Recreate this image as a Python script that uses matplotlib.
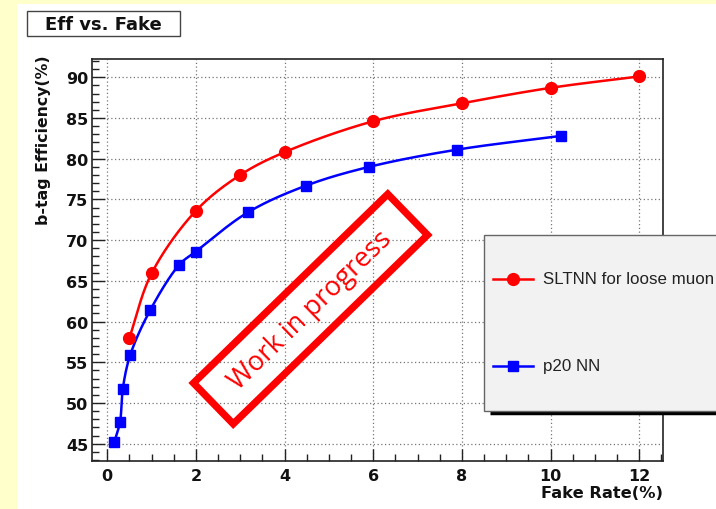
import numpy as np
import matplotlib
matplotlib.use("Agg")
import matplotlib.pyplot as plt
from matplotlib.patches import Rectangle, Polygon
from matplotlib.lines import Line2D
from matplotlib.ticker import MultipleLocator

W, H = 716, 510

# b-tag efficiency vs. fake rate (both in %)
slt_fake = [0.5, 1.0, 2.0, 3.0, 4.0, 6.0, 8.0, 10.0, 12.0]
slt_eff = [58.0, 65.9, 73.6, 78.0, 80.8, 84.6, 86.8, 88.7, 90.1]

p20_fake = [0.16, 0.29, 0.35, 0.52, 0.97, 1.63, 2.0, 3.17, 4.49, 5.91, 7.88, 10.24]
p20_eff = [45.2, 47.7, 51.7, 55.9, 61.4, 67.0, 68.6, 73.4, 76.7, 79.0, 81.1, 82.8]

series_labels = ["SLTNN for loose muon", "p20 NN"]
series_colors = ["#ff0000", "#0000ff"]
series_markers = ["o", "s"]

x_ticks = [0, 2, 4, 6, 8, 10, 12]
y_ticks = [45, 50, 55, 60, 65, 70, 75, 80, 85, 90]

BOLD = "DejaVu Sans"


def fig_px(x, y):
    """Pixel position (origin top-left) -> figure fraction."""
    return x / W, 1 - y / H


def catmull_rom(ax, xs, ys, n=40):
    """Centripetal Catmull-Rom curve through the points, computed in display space."""
    pts = ax.transData.transform(np.column_stack([xs, ys]))
    P = np.vstack([2 * pts[0] - pts[1], pts, 2 * pts[-1] - pts[-2]])
    out = []
    for i in range(1, len(P) - 2):
        p0, p1, p2, p3 = P[i - 1:i + 3]
        t0 = 0.0
        t1 = t0 + np.linalg.norm(p1 - p0) ** 0.5
        t2 = t1 + np.linalg.norm(p2 - p1) ** 0.5
        t3 = t2 + np.linalg.norm(p3 - p2) ** 0.5
        t = np.linspace(t1, t2, n)[:, None]
        A1 = (t1 - t) / (t1 - t0) * p0 + (t - t0) / (t1 - t0) * p1
        A2 = (t2 - t) / (t2 - t1) * p1 + (t - t1) / (t2 - t1) * p2
        A3 = (t3 - t) / (t3 - t2) * p2 + (t - t2) / (t3 - t2) * p3
        B1 = (t2 - t) / (t2 - t0) * A1 + (t - t0) / (t2 - t0) * A2
        B2 = (t3 - t) / (t3 - t1) * A2 + (t - t1) / (t3 - t1) * A3
        C = (t2 - t) / (t2 - t1) * B1 + (t - t1) / (t2 - t1) * B2
        out.append(C if i == len(P) - 3 else C[:-1])
    return ax.transData.inverted().transform(np.vstack(out))


fig = plt.figure(figsize=(W / 100, H / 100), dpi=100)
fig.patch.set_facecolor("white")

# pale yellow page margins
fig.add_artist(Rectangle((0, 0), 17 / W, 1, transform=fig.transFigure,
                         facecolor="#ffffcc", edgecolor="none", zorder=0))
fig.add_artist(Rectangle((0, 1 - 5 / H), 1, 5 / H, transform=fig.transFigure,
                         facecolor="#ffffcc", edgecolor="none", zorder=0))

left, right, top, bottom = 91.7, 662.7, 59.7, 462.0
ax = fig.add_axes([left / W, 1 - bottom / H, (right - left) / W, (bottom - top) / H])
ax.set_xlim(-0.35, 12.53)
ax.set_ylim(42.87, 92.28)

ax.set_xticks(x_ticks)
ax.set_yticks(y_ticks)
ax.xaxis.set_minor_locator(MultipleLocator(0.5))
ax.yaxis.set_minor_locator(MultipleLocator(1))
ax.tick_params(which="both", direction="in", top=False, right=False,
               color="#222222", width=1.0)
ax.tick_params(which="major", length=9)
ax.tick_params(which="minor", length=5)
ax.tick_params(axis="x", which="major", pad=5)
ax.tick_params(axis="y", which="major", pad=2.5)
for lab in ax.get_xticklabels() + ax.get_yticklabels():
    lab.set_fontfamily(BOLD)
    lab.set_fontweight("bold")
    lab.set_fontsize(11.5)
    lab.set_color("#111111")
for s in ax.spines.values():
    s.set_linewidth(1.2)
    s.set_color("#222222")

ax.grid(True, which="major", color="#777777", linestyle=(0, (1, 2)), linewidth=0.9)
ax.set_axisbelow(True)

# series: smooth curve plus markers
for xs, ys, c, m in [(slt_fake, slt_eff, series_colors[0], series_markers[0]),
                     (p20_fake, p20_eff, series_colors[1], series_markers[1])]:
    curve = catmull_rom(ax, xs, ys)
    ax.plot(curve[:, 0], curve[:, 1], color=c, linewidth=1.8, zorder=3)
    ax.plot(xs, ys, linestyle="none", marker=m, color=c,
            markersize=8.5 if m == "o" else 7.8, zorder=4)

# axis titles
fig.text(*fig_px(663, 494), "Fake Rate(%)", ha="right", va="center",
         fontfamily=BOLD, fontweight="bold", fontsize=11.7, color="#111111")
fig.text(*fig_px(44, 55), "b-tag Efficiency(%)", ha="center", va="top",
         rotation=90, fontfamily=BOLD, fontweight="bold", fontsize=11.3,
         color="#111111")

# title box
tx, ty = fig_px(27, 37)
fig.add_artist(Rectangle((tx, ty), 153 / W, 25 / H, transform=fig.transFigure,
                         facecolor="white", edgecolor="#444444", linewidth=1.0,
                         zorder=5))
fig.text(*fig_px(103.5, 25), "Eff vs. Fake", ha="center", va="center",
         fontfamily=BOLD, fontweight="bold", fontsize=13, color="#111111",
         zorder=6)

# legend panel (runs off the right edge)
lx0, ly0, lx1, ly1 = 484, 235.7, 730, 411.7
fig.add_artist(Line2D([(lx0 + 6) / W, 1.0], [1 - (ly1 + 2) / H] * 2,
                      transform=fig.transFigure, color="black", linewidth=2.5,
                      solid_capstyle="butt", zorder=6))
bx, by = fig_px(lx0, ly1)
fig.add_artist(Rectangle((bx, by), (lx1 - lx0) / W, (ly1 - ly0) / H,
                         transform=fig.transFigure, facecolor="#f2f2f2",
                         edgecolor="#666666", linewidth=1.0, zorder=7))
for lab, c, m, yy in zip(series_labels, series_colors, series_markers, [280, 367]):
    fig.add_artist(Line2D([493 / W, 533 / W], [1 - yy / H] * 2,
                          transform=fig.transFigure, color=c, linewidth=1.8,
                          zorder=8))
    fig.add_artist(Line2D([513 / W], [1 - yy / H], transform=fig.transFigure,
                          color=c, marker=m, linestyle="none",
                          markersize=8.5 if m == "o" else 7.8, zorder=9))
    fig.text(543 / W, 1 - yy / H, lab, ha="left", va="center",
             fontfamily="Liberation Sans", fontsize=12.2, color="#222222", zorder=9)

# "Work in progress" stamp
cx, cy = 310.5, 310.0
length, width, ang = 271.0, 57.0, np.deg2rad(44.2)
u = np.array([np.cos(ang), -np.sin(ang)])   # along the long side (pixel y down)
v = np.array([np.sin(ang), np.cos(ang)])    # across
c0 = np.array([cx, cy])
corners = [c0 - u * length / 2 + v * width / 2,
           c0 + u * length / 2 + v * width / 2,
           c0 + u * length / 2 - v * width / 2,
           c0 - u * length / 2 - v * width / 2]
fig.add_artist(Polygon([fig_px(*p) for p in corners], closed=True,
                       transform=fig.transFigure, fill=False,
                       edgecolor="#ff0000", linewidth=5.2, joinstyle="miter",
                       zorder=10))
fig.text(*fig_px(cx, cy + 1), "Work in progress", ha="center", va="center",
         rotation=44.2, rotation_mode="anchor", fontfamily="Open Sans",
         fontsize=19.5, color="#ff0000", zorder=10)

fig.savefig("out.png", dpi=100)
